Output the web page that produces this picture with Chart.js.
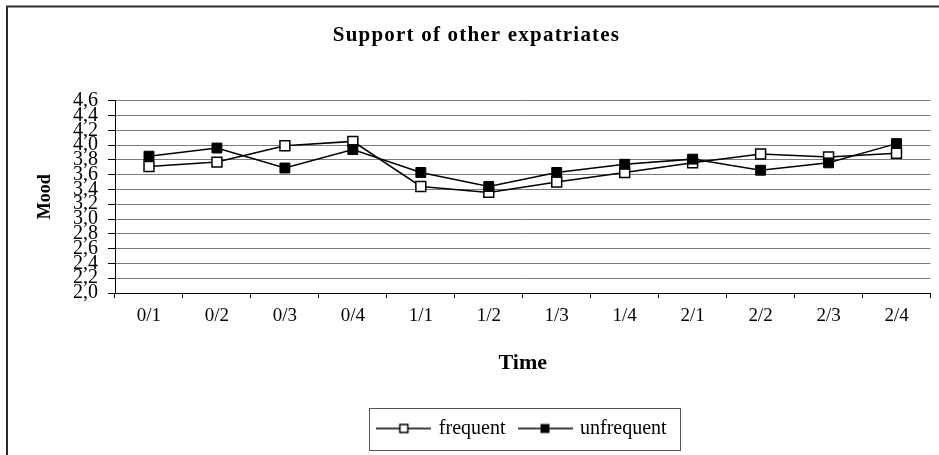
<!DOCTYPE html>
<html>
<head>
<meta charset="utf-8">
<title>Support of other expatriates</title>
<script src="https://cdn.jsdelivr.net/npm/chart.js@4.4.1/dist/chart.umd.min.js"></script>
<style>
    html, body { margin: 0; padding: 0; background: #fff; }
    #wrap { width: 939px; height: 455px; }
</style>
</head>
<body>
<div id="wrap"><canvas id="moodChart" width="939" height="455"></canvas></div>
<script>
// measurement points (year/quarter)
const timeLabels = ['0/1', '0/2', '0/3', '0/4', '1/1', '1/2', '1/3', '1/4', '2/1', '2/2', '2/3', '2/4'];

// mean mood per group
const frequentMood   = [3.71, 3.77, 3.99, 4.05, 3.44, 3.36, 3.50, 3.63, 3.76, 3.88, 3.84, 3.89];
const unfrequentMood = [3.85, 3.96, 3.69, 3.94, 3.63, 3.44, 3.63, 3.74, 3.81, 3.66, 3.76, 4.02];

// y axis labels, decimal comma
const moodTicks = ['2,0', '2,2', '2,4', '2,6', '2,8', '3,0', '3,2', '3,4', '3,6', '3,8', '4,0', '4,2', '4,4', '4,6'];

const SERIF = "'Liberation Serif', 'Times New Roman', serif";
Chart.defaults.font.family = SERIF;
Chart.defaults.color = '#000';

// small line + square symbol for the legend
function legendSymbol(filled) {
    const c = document.createElement('canvas');
    c.width = 55;
    c.height = 12;
    const g = c.getContext('2d');
    g.strokeStyle = '#000';
    g.lineWidth = 1.5;
    g.beginPath();
    g.moveTo(0, 6);
    g.lineTo(55, 6);
    g.stroke();
    if (filled) {
        g.fillStyle = '#000';
        g.fillRect(23, 1.5, 9, 9);
    } else {
        g.fillStyle = '#fff';
        g.fillRect(23.5, 2, 8, 8);
        g.strokeRect(23.5, 2, 8, 8);
    }
    return c;
}
const symbols = [legendSymbol(false), legendSymbol(true)];

// white page with the frame edge at top/left
const framePlugin = {
    id: 'frame',
    beforeDraw(chart) {
        const ctx = chart.ctx;
        ctx.save();
        ctx.fillStyle = '#fff';
        ctx.fillRect(0, 0, chart.width, chart.height);
        ctx.strokeStyle = '#2b2b2b';
        ctx.lineWidth = 2;
        ctx.beginPath();
        ctx.moveTo(7, chart.height);
        ctx.lineTo(7, 6.5);
        ctx.lineTo(chart.width, 6.5);
        ctx.stroke();
        ctx.restore();
    },
    afterDraw(chart) {
        // box around the legend entries
        const boxes = chart.legend.legendHitBoxes;
        if (!boxes || !boxes.length) return;
        const first = boxes[0];
        const last = boxes[boxes.length - 1];
        const left = Math.round(first.left - 9.5) + 0.5;
        const right = Math.round(last.left + last.width + 13) + 0.5;
        const cy = first.top + first.height / 2;
        const ctx = chart.ctx;
        ctx.save();
        ctx.strokeStyle = '#555';
        ctx.lineWidth = 1;
        ctx.strokeRect(left, Math.round(cy - 21) + 0.5, right - left, 42);
        ctx.restore();
    }
};

// slightly spaced lettering for the chart title
const spacingPlugin = {
    id: 'spacing',
    afterInit(chart) {
        const blk = chart.titleBlock;
        if (!blk) return;
        const draw = blk.draw.bind(blk);
        blk.draw = function () {
            this.ctx.save();
            this.ctx.letterSpacing = '1.2px';
            draw();
            this.ctx.restore();
        };
    }
};

const ctx = document.getElementById('moodChart').getContext('2d');
new Chart(ctx, {
    type: 'line',
    data: {
        labels: timeLabels,
        datasets: [{
            label: 'frequent',
            data: frequentMood,
            borderColor: '#000',
            borderWidth: 1.5,
            pointStyle: 'rect',
            pointRadius: 7,
            pointBackgroundColor: '#fff',
            pointBorderColor: '#000',
            pointBorderWidth: 1.5,
            tension: 0,
            order: 1,
        }, {
            label: 'unfrequent',
            data: unfrequentMood,
            borderColor: '#000',
            borderWidth: 1.5,
            pointStyle: 'rect',
            pointRadius: 7,
            pointBackgroundColor: '#000',
            pointBorderColor: '#000',
            pointBorderWidth: 1,
            tension: 0,
            order: 0,
        }],
    },
    options: {
        responsive: false,
        animation: false,
        layout: { padding: { left: 22, right: 8, top: 0, bottom: 6.5 } },
        plugins: {
            tooltip: { enabled: false },
            title: {
                display: true,
                text: 'Support of other expatriates',
                font: { size: 21, weight: 'bold' },
                padding: { top: 23.4, bottom: 52.1 },
            },
            legend: {
                position: 'bottom',
                fullSize: false,
                sort: (a, b) => a.datasetIndex - b.datasetIndex,
                labels: {
                    usePointStyle: true,
                    pointStyleWidth: 50,
                    padding: 14.5,
                    font: { size: 20 },
                    generateLabels: chart => chart.data.datasets.map((ds, i) => ({
                        text: ds.label,
                        pointStyle: symbols[i],
                        fillStyle: '#000',
                        strokeStyle: '#000',
                        lineWidth: 0,
                        fontColor: '#000',
                        hidden: false,
                        datasetIndex: i,
                    })),
                },
            },
        },
        scales: {
            x: {
                offset: true,
                afterFit: scale => { scale.height = 111; },
                grid: {
                    offset: true,
                    drawOnChartArea: false,
                    drawTicks: true,
                    tickLength: 5,
                    tickColor: '#000',
                },
                border: { color: '#000', width: 1 },
                ticks: { font: { size: 19 }, padding: 7, autoSkip: false, maxRotation: 0 },
                title: {
                    display: true,
                    text: 'Time',
                    font: { size: 22, weight: 'bold' },
                    padding: { top: 0, bottom: 27.8 },
                },
            },
            y: {
                min: 2,
                max: 4.6,
                afterFit: scale => { scale.width = 93; },
                grid: {
                    color: '#7a7a7a',
                    lineWidth: 1,
                    tickLength: 7,
                    tickColor: '#000',
                },
                border: { color: '#000', width: 1 },
                ticks: {
                    stepSize: 0.2,
                    autoSkip: false,
                    padding: 10,
                    font: { size: 20 },
                    callback: (value, index) => moodTicks[index],
                },
                title: {
                    display: true,
                    text: 'Mood',
                    font: { size: 18, weight: 'bold' },
                    padding: { top: 12.2, bottom: 0 },
                },
            },
        },
    },
    plugins: [framePlugin, spacingPlugin],
});
</script>
</body>
</html>
